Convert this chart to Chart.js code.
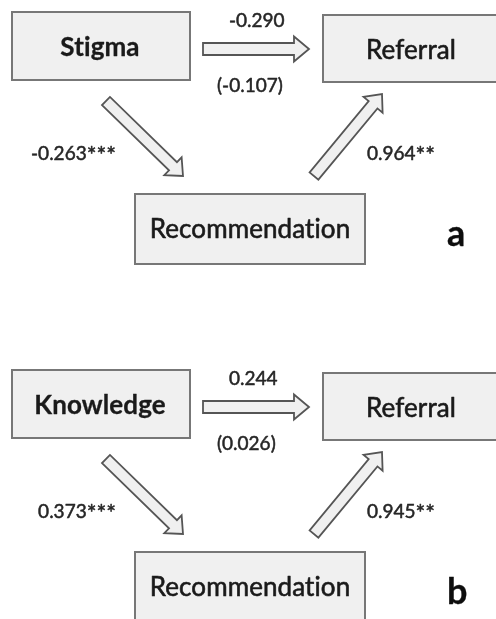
<!DOCTYPE html>
<html>
<head>
<meta charset="utf-8">
<script src="https://cdn.jsdelivr.net/npm/chart.js@4/dist/chart.umd.min.js"></script>
<style>
  html, body { margin: 0; padding: 0; background: #ffffff; }
  #wrap { width: 496px; height: 619px; }
</style>
</head>
<body>
<div id="wrap"><canvas id="c" width="496" height="619"></canvas></div>
<script>
// Mediation models: predictor -> Recommendation -> Referral
const panelLetters = ['a', 'b'];
const predictors = ['Stigma', 'Knowledge'];
const mediatorName = 'Recommendation';
const outcomeName = 'Referral';
// total effect (c), direct effect (c'), path a, path b
const totalEffects = [-0.290, 0.244];
const directEffects = [-0.107, 0.026];
const pathA = [-0.263, 0.373];
const pathAStars = ['***', '***'];
const pathB = [0.964, 0.945];
const pathBStars = ['**', '**'];

// Layout of one panel in scale units; panels are stacked vertically
const panelOffset = [0, 358];
const layout = {
  predictor: { x0: 12, x1: 190, y0: 12, y1: 80, textX: 100, base: 56 },
  outcome:   { x0: 323, x1: 505, y0: 15, y1: 82, textX: 411, base: 59 },
  mediator:  { x0: 135, x1: 365, y0: 194, y1: 264, textX: 250, base: 238 },
  direct:    { from: [203, 49], to: [309, 49], w: 6, h: 12.5, L: 15 },
  aPath:     { from: [106, 101], to: [183, 176], w: 5.7, h: 12.4, L: 14 },
  bPath:     { from: [314, 176], to: [382, 94], w: 5.7, h: 12.4, L: 14 },
  totalLbl:  { x: 229, y: 27, align: 'left' },
  directLbl: { x: 217, y: 92, align: 'left' },
  aLbl:      { x: 116, y: 160, align: 'right' },
  bLbl:      { x: 367, y: 160, align: 'left' },
  letter:    { x: 447, y: 246 }
};

const fmt = v => v.toFixed(3);

const boxFill = '#f0f0f0';
const boxStroke = '#777777';
const arrowStroke = '#555555';
const nodeText = '#1a1a1a';
const coefText = '#262626';
const FAMILY = 'Lato, "Open Sans", sans-serif';

const diagramPlugin = {
  id: 'pathDiagram',
  afterDatasetsDraw(chart) {
    const ctx = chart.ctx;
    const xs = chart.scales.x, ys = chart.scales.y;
    const X = v => xs.getPixelForValue(v);

    // text drawn with a hairline outline so it reads a little heavier
    const heavyText = (t, x, y, color, weight) => {
      ctx.fillStyle = color;
      ctx.fillText(t, x, y);
      ctx.strokeStyle = color;
      ctx.lineWidth = weight;
      ctx.lineJoin = 'round';
      ctx.strokeText(t, x, y);
    };

    panelLetters.forEach((letter, i) => {
      const Y = v => ys.getPixelForValue(v + panelOffset[i]);

      const box = (b, label, bold) => {
        ctx.save();
        ctx.fillStyle = boxFill;
        ctx.strokeStyle = boxStroke;
        ctx.lineWidth = 2;
        const x = X(b.x0), y = Y(b.y0);
        const w = X(b.x1) - x, h = Y(b.y1) - y;
        ctx.fillRect(x, y, w, h);
        ctx.strokeRect(x, y, w, h);
        ctx.font = (bold ? 'bold ' : '') + '26px ' + FAMILY;
        // a tiny letter spacing keeps "ti" from forming a ligature
        if ('letterSpacing' in ctx) ctx.letterSpacing = '0.1px';
        ctx.textAlign = 'center';
        ctx.textBaseline = 'alphabetic';
        heavyText(label, X(b.textX), Y(b.base), nodeText, bold ? 0.3 : 0.6);
        ctx.restore();
      };

      const arrow = (a) => {
        const x0 = X(a.from[0]), y0 = Y(a.from[1]);
        const x1 = X(a.to[0]), y1 = Y(a.to[1]);
        const len = Math.hypot(x1 - x0, y1 - y0);
        const ux = (x1 - x0) / len, uy = (y1 - y0) / len;
        const nx = -uy, ny = ux;
        const kx = x1 - ux * a.L, ky = y1 - uy * a.L;
        ctx.save();
        ctx.beginPath();
        ctx.moveTo(x0 + nx * a.w, y0 + ny * a.w);
        ctx.lineTo(kx + nx * a.w, ky + ny * a.w);
        ctx.lineTo(kx + nx * a.h, ky + ny * a.h);
        ctx.lineTo(x1, y1);
        ctx.lineTo(kx - nx * a.h, ky - ny * a.h);
        ctx.lineTo(kx - nx * a.w, ky - ny * a.w);
        ctx.lineTo(x0 - nx * a.w, y0 - ny * a.w);
        ctx.closePath();
        ctx.fillStyle = boxFill;
        ctx.fill();
        ctx.strokeStyle = arrowStroke;
        ctx.lineWidth = 1.8;
        ctx.lineJoin = 'miter';
        ctx.stroke();
        ctx.restore();
      };

      // coefficient label, with significance stars set a little larger
      const coef = (num, stars, p) => {
        ctx.save();
        ctx.textBaseline = 'alphabetic';
        ctx.textAlign = 'left';
        const numFont = '19px ' + FAMILY;
        const starFont = '23px ' + FAMILY;
        ctx.font = numFont;
        const wNum = ctx.measureText(num).width;
        ctx.font = starFont;
        const wStar = stars ? ctx.measureText(stars).width : 0;
        const total = wNum + wStar;
        let x = X(p.x);
        if (p.align === 'right') x -= total;
        else if (p.align === 'center') x -= total / 2;
        const y = Y(p.y);
        ctx.font = numFont;
        heavyText(num, x, y, coefText, 0.5);
        if (stars) {
          ctx.font = starFont;
          heavyText(stars, x + wNum, y + 3, coefText, 0.5);
        }
        ctx.restore();
      };

      box(layout.predictor, predictors[i], true);
      box(layout.outcome, outcomeName, false);
      box(layout.mediator, mediatorName, false);

      arrow(layout.direct);
      arrow(layout.aPath);
      arrow(layout.bPath);

      coef(fmt(totalEffects[i]), '', layout.totalLbl);
      coef('(' + fmt(directEffects[i]) + ')', '', layout.directLbl);
      coef(fmt(pathA[i]), pathAStars[i], layout.aLbl);
      coef(fmt(pathB[i]), pathBStars[i], layout.bLbl);

      ctx.save();
      ctx.font = 'bold 36px ' + FAMILY;
      ctx.textAlign = 'left';
      ctx.textBaseline = 'alphabetic';
      heavyText(letter, X(layout.letter.x), Y(layout.letter.y), '#0d0d0d', 0.3);
      ctx.restore();
    });
  }
};

new Chart(document.getElementById('c'), {
  type: 'scatter',
  data: { datasets: [{ data: [], pointRadius: 0 }] },
  options: {
    responsive: false,
    animation: false,
    events: [],
    layout: { padding: 0 },
    plugins: { legend: { display: false }, tooltip: { enabled: false } },
    scales: {
      x: { type: 'linear', min: 0, max: 496, display: false },
      y: { type: 'linear', min: 0, max: 619, reverse: true, display: false }
    }
  },
  plugins: [diagramPlugin]
});
</script>
</body>
</html>
